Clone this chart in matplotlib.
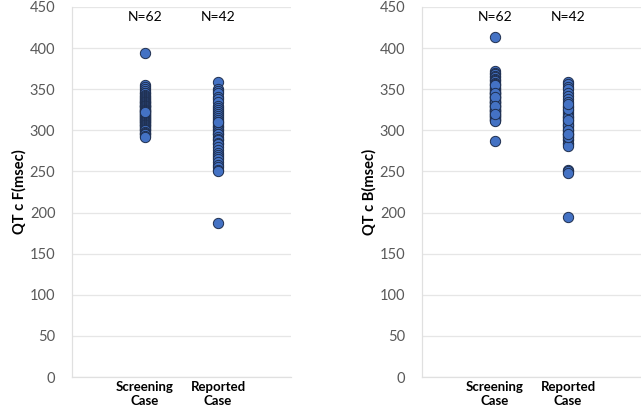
import matplotlib
matplotlib.use("Agg")
import matplotlib.pyplot as plt

plt.rcParams["font.family"] = ["Lato", "DejaVu Sans"]

categories = ["Screening\nCase", "Reported\nCase"]
counts = ["N=62", "N=42"]
y_ticks = [0, 50, 100, 150, 200, 250, 300, 350, 400, 450]

qtcf_screening = [
    394,
    355, 353, 350, 348, 346, 345, 343, 342, 340, 339,
    338, 337, 336, 335, 334, 333, 332, 331, 330, 330,
    329, 328, 327, 326, 325, 325, 324, 323, 322, 321,
    320, 320, 319, 318, 317, 316, 315, 315, 314, 313,
    312, 311, 310, 310, 309, 308, 307, 306, 305, 304,
    303, 302, 300, 300, 298, 297, 296, 295, 293, 292,
    322,
]
qtcf_reported = [
    359, 350, 348, 346, 340, 338, 335, 330, 327, 325,
    322, 320, 317, 315, 312, 310, 308, 305, 304, 302,
    300, 298, 296, 295, 292, 290, 288, 285, 283, 280,
    276, 272, 270, 268, 265, 262, 258, 255, 252, 250,
    310, 187,
]
qtcb_screening = [
    414,
    372, 370, 368, 366, 365, 363, 361, 360, 358, 356,
    355, 353, 352, 350, 349, 348, 347, 346, 345, 344,
    343, 342, 341, 340, 339, 338, 337, 336, 335, 334,
    333, 332, 331, 330, 329, 328, 327, 326, 325, 324,
    323, 322, 321, 320, 319, 318, 317, 316, 315, 314,
    313, 312, 311,
    355, 345, 335, 325, 340, 330, 320,
    287,
]
qtcb_reported = [
    359, 356, 353, 350, 346, 342, 338, 335, 330, 328,
    325, 322, 320, 318, 315, 312, 310, 308, 305, 303,
    300, 298, 296, 295, 293, 290, 288, 285, 283, 281,
    316, 306, 300, 292, 326, 332, 312,
    252, 250, 248, 296, 194,
]

panels = [
    ("QT c F(msec)", [qtcf_screening, qtcf_reported]),
    ("QT c B(msec)", [qtcb_screening, qtcb_reported]),
]

fig = plt.figure(figsize=(6.41, 4.11), dpi=100)
W, H = 641, 411
lefts = [72, 422]
for left, (ylabel, groups) in zip(lefts, panels):
    ax = fig.add_axes([left / W, 1 - 377 / H, 219 / W, 370 / H])
    for i, vals in enumerate(groups):
        ax.scatter([i + 1] * len(vals), vals, s=55, color="#4472C4",
                   edgecolor="#1F2F4F", linewidth=0.7, zorder=3, clip_on=False)
        ax.text(i + 1, 438, counts[i], ha="center", va="center",
                fontsize=10, color="#000000")
    ax.set_xlim(0, 3)
    ax.set_ylim(0, 450)
    ax.set_yticks(y_ticks)
    ax.set_xticks([1, 2])
    ax.set_xticklabels(categories, fontsize=9.5, fontweight="bold")
    ax.tick_params(axis="both", length=0)
    ax.tick_params(axis="y", labelsize=10.5, labelcolor="#595959", pad=12)
    ax.tick_params(axis="x", pad=3)
    ax.grid(axis="y", color="#E6E6E6", linewidth=0.9, zorder=0)
    ax.set_axisbelow(True)
    for s in ["top", "right"]:
        ax.spines[s].set_visible(False)
    for s in ["left", "bottom"]:
        ax.spines[s].set_color("#E0E0E0")
        ax.spines[s].set_linewidth(0.9)
    ax.set_ylabel(ylabel, fontsize=10.5, fontweight="bold", labelpad=2)

fig.savefig("out.png", dpi=100)
